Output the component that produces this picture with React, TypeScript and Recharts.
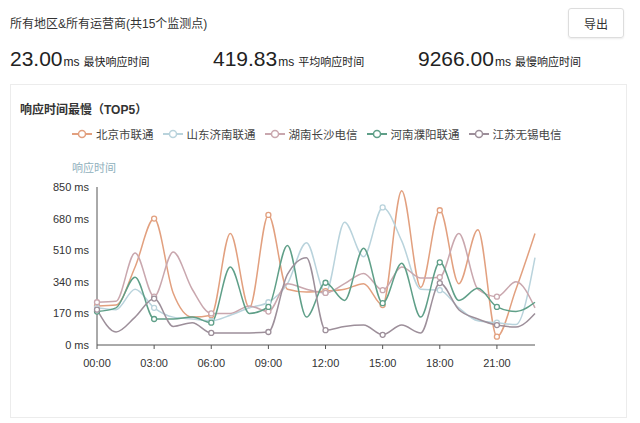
import React from 'react';
import { LineChart, Line, XAxis, YAxis, Legend, Label } from 'recharts';

const hours = ['00:00','01:00','02:00','03:00','04:00','05:00','06:00','07:00','08:00','09:00','10:00','11:00','12:00','13:00','14:00','15:00','16:00','17:00','18:00','19:00','20:00','21:00','22:00','23:00'];
const yTicks = [0, 170, 340, 510, 680, 850];

const beijing = [210, 215, 420, 680, 280, 150, 160, 600, 200, 700, 300, 285, 290, 300, 330, 215, 830, 310, 725, 330, 620, 45, 300, 600];
const shandong = [200, 190, 300, 200, 150, 140, 130, 160, 200, 230, 330, 550, 280, 660, 475, 740, 560, 300, 295, 200, 130, 120, 110, 470];
const hunan = [230, 235, 495, 260, 500, 300, 170, 170, 210, 180, 330, 300, 280, 330, 385, 295, 420, 360, 365, 600, 300, 260, 340, 200];
const henan = [180, 200, 365, 140, 140, 150, 120, 420, 170, 205, 535, 150, 335, 240, 520, 225, 440, 150, 445, 240, 305, 205, 180, 230];
const jiangsu = [190, 70, 150, 250, 100, 120, 65, 65, 65, 70, 380, 470, 80, 100, 107, 55, 107, 65, 333, 190, 140, 107, 97, 170];

const seriesNames = ['北京市联通', '山东济南联通', '湖南长沙电信', '河南濮阳联通', '江苏无锡电信'];
const seriesKeys = ['bj', 'sd', 'hn', 'hen', 'js'];
const seriesColors = ['#e2a07f', '#b9d3dc', '#c9a7ae', '#5f9f88', '#9d8f9a'];

const data = hours.map((h, i) => ({
  hour: h,
  bj: beijing[i],
  sd: shandong[i],
  hn: hunan[i],
  hen: henan[i],
  js: jiangsu[i],
}));

const FONT = '"Liberation Sans", Arial, "Noto Sans CJK SC", sans-serif';

const makeDot = (color: string) => (props: any) => {
  const { cx, cy, index } = props;
  if (index % 3 !== 0 || cx == null || cy == null) return <g key={`d-${index}`} />;
  return <circle key={`d-${index}`} cx={cx} cy={cy} r={2.5} fill="#fff" stroke={color} strokeWidth={1.3} />;
};

const LegendContent = () => (
  <div style={{ display: 'flex', alignItems: 'center', fontFamily: FONT, fontSize: 11.5, color: '#444', paddingLeft: 72 }}>
    {seriesNames.map((n, i) => (
      <div key={n} style={{ display: 'flex', alignItems: 'center', marginRight: 9 }}>
        <svg width={20} height={12} style={{ marginRight: 4 }}>
          <line x1={0} y1={6} x2={20} y2={6} stroke={seriesColors[i]} strokeWidth={2} />
          <circle cx={10} cy={6} r={3.5} fill="#fff" stroke={seriesColors[i]} strokeWidth={1.5} />
        </svg>
        <span>{n}</span>
      </div>
    ))}
  </div>
);

const YName = (props: any) => {
  const vb = props.viewBox || {};
  return (
    <text x={(vb.x || 0) + (vb.width || 0) - 3} y={(vb.y || 0) - 15} textAnchor="middle" fontSize={11} fill="#8fb0bc" fontFamily={FONT}>
      响应时间
    </text>
  );
};

export default function App() {
  return (
    <div style={{ position: 'absolute', left: 0, top: 0, width: 640, height: 423, background: '#fff', fontFamily: FONT, overflow: 'hidden' }}>
      <div style={{ position: 'absolute', left: 10, top: 14, fontSize: 12, color: '#333' }}>所有地区&amp;所有运营商(共15个监测点)</div>
      <div style={{ position: 'absolute', left: 568, top: 8, width: 56, height: 30, border: '1px solid #ddd', borderRadius: 3, boxSizing: 'border-box', display: 'flex', alignItems: 'center', justifyContent: 'center', fontSize: 12, color: '#333', boxShadow: '0 1px 2px rgba(0,0,0,0.08)' }}>导出</div>
      {[
        { v: '23.00', t: '最快响应时间', x: 10 },
        { v: '419.83', t: '平均响应时间', x: 213 },
        { v: '9266.00', t: '最慢响应时间', x: 418 },
      ].map((s) => (
        <div key={s.t} style={{ position: 'absolute', left: s.x, top: 47, whiteSpace: 'nowrap', color: '#222' }}>
          <span style={{ fontSize: 21 }}>{s.v}</span>
          <span style={{ fontSize: 12, marginLeft: 1 }}>ms</span>
          <span style={{ fontSize: 11, marginLeft: 4 }}>{s.t}</span>
        </div>
      ))}
      <div style={{ position: 'absolute', left: 10, top: 84, width: 617, height: 334, border: '1px solid #ececec', boxSizing: 'border-box' }} />
      <div style={{ position: 'absolute', left: 20, top: 100, fontSize: 12, fontWeight: 'bold', color: '#333' }}>响应时间最慢（TOP5）</div>
      <div style={{ position: 'absolute', left: 0, top: 0 }}>
        <LineChart width={640} height={423} data={data} margin={{ top: 187, right: 105, bottom: 48, left: 37 }}>
          <XAxis
            dataKey="hour"
            interval={2}
            tickSize={4}
            tickMargin={10}
            axisLine={{ stroke: '#555' }}
            tickLine={{ stroke: '#555' }}
            tick={{ fontSize: 11, fill: '#333', fontFamily: FONT }}
            padding={{ left: 0, right: 0 }}
          />
          <YAxis
            domain={[0, 850]}
            ticks={yTicks}
            width={60}
            tickLine={false}
            axisLine={{ stroke: '#555' }}
            tick={{ fontSize: 11, fill: '#333', fontFamily: FONT }}
            tickFormatter={(v: number) => `${v} ms`}
          >
            <Label content={<YName />} />
          </YAxis>
          <Legend layout="vertical" align="center" verticalAlign="middle" wrapperStyle={{ top: 126, left: 0, width: 640 }} content={<LegendContent />} />
          {seriesKeys.map((k, i) => (
            <Line
              key={k}
              dataKey={k}
              name={seriesNames[i]}
              type="monotone"
              stroke={seriesColors[i]}
              strokeWidth={1.5}
              dot={makeDot(seriesColors[i])}
              activeDot={false}
              isAnimationActive={false}
            />
          ))}
        </LineChart>
      </div>
    </div>
  );
}
